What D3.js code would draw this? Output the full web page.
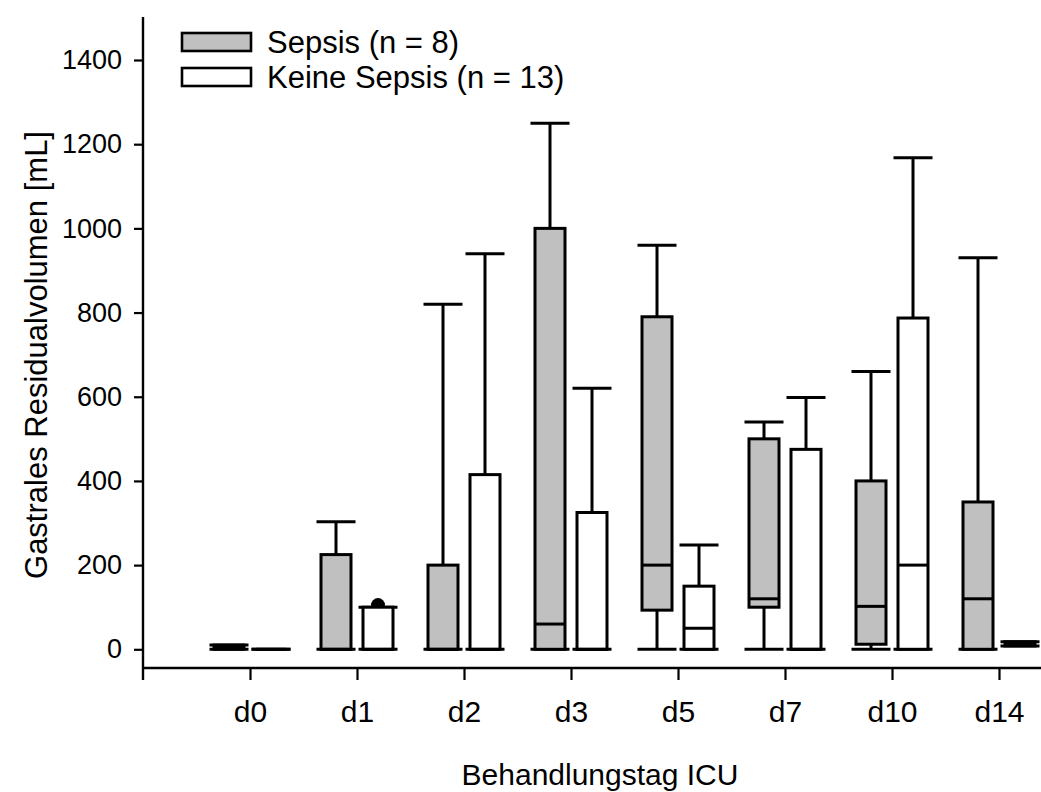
<!DOCTYPE html>
<html>
<head>
<meta charset="utf-8">
<script src="https://cdn.jsdelivr.net/npm/d3@7"></script>
<style>
  html, body { margin: 0; padding: 0; background: #fff; }
  svg { display: block; font-family: "Liberation Sans", Arial, sans-serif; }
</style>
</head>
<body>
<svg id="chart" width="1041" height="792"></svg>
<script>
const categories = ["d0", "d1", "d2", "d3", "d5", "d7", "d10", "d14"];
const yTicks = [0, 200, 400, 600, 800, 1000, 1200, 1400];

const sepsisMin    = [0, 0, 0, 0, 0, 0, 0, 0];
const sepsisQ1     = [0, 0, 0, 0, 93, 100, 12, 0];
const sepsisMedian = [5, 0, 0, 60, 200, 120, 102, 120];
const sepsisQ3     = [10, 225, 200, 1000, 790, 500, 400, 350];
const sepsisMax    = [10, 303, 820, 1250, 960, 540, 660, 930];

const keineMin    = [0, 0, 0, 0, 0, 0, 0, 8];
const keineQ1     = [0, 0, 0, 0, 0, 0, 0, 8];
const keineMedian = [0, 0, 0, 0, 50, 0, 200, 12];
const keineQ3     = [0, 100, 415, 325, 150, 475, 787, 18];
const keineMax    = [0, 100, 940, 620, 248, 598, 1168, 18];
const keineOutliers = [[], [105], [], [], [], [], [], []];

const seriesNames = ["Sepsis (n = 8)", "Keine Sepsis (n = 13)"];
const seriesFill = ["#c0c0c0", "#ffffff"];

const svg = d3.select("#chart");
const axisY = 668, axisLeft = 143, axisRight = 1041, axisTop = 17;
const FONT = "'Liberation Sans', Arial, sans-serif";

const y = d3.scaleLinear().domain([0, 1400]).range([649.3, 60]);
const x = d3.scalePoint().domain(categories).range([250, 999]);

const boxW = 30, capW = 39, offset = 21, sw = 3;

// axes
svg.append("line").attr("x1", axisLeft).attr("x2", axisLeft).attr("y1", axisTop).attr("y2", axisY + 12)
  .attr("stroke", "#000").attr("stroke-width", 2.4);
svg.append("line").attr("x1", axisLeft).attr("x2", axisRight).attr("y1", axisY).attr("y2", axisY)
  .attr("stroke", "#000").attr("stroke-width", 2.4);

const gy = svg.append("g").attr("transform", `translate(${axisLeft},0)`)
  .call(d3.axisLeft(y).tickValues(yTicks).tickSize(9).tickPadding(12).tickFormat(d3.format("d")));
gy.select(".domain").remove();
gy.selectAll(".tick line").attr("stroke", "#000").attr("stroke-width", 2.2);
gy.selectAll(".tick text").attr("font-size", 27).attr("fill", "#000").attr("font-family", FONT);

const gx = svg.append("g").attr("transform", `translate(0,${axisY})`)
  .call(d3.axisBottom(x).tickSize(12).tickPadding(21));
gx.select(".domain").remove();
gx.selectAll(".tick line").attr("stroke", "#000").attr("stroke-width", 2.2);
gx.selectAll(".tick text").attr("font-size", 30).attr("fill", "#000").attr("font-family", FONT);

// boxes
const series = [
  {min: sepsisMin, q1: sepsisQ1, med: sepsisMedian, q3: sepsisQ3, max: sepsisMax, out: categories.map(() => []), dx: -offset, fill: seriesFill[0]},
  {min: keineMin, q1: keineQ1, med: keineMedian, q3: keineQ3, max: keineMax, out: keineOutliers, dx: offset, fill: seriesFill[1]}
];

series.forEach(s => {
  const g = svg.append("g");
  categories.forEach((c, i) => {
    const cx = x(c) + s.dx;
    g.append("line").attr("x1", cx).attr("x2", cx).attr("y1", y(s.q3[i])).attr("y2", y(s.max[i]))
      .attr("stroke", "#000").attr("stroke-width", sw);
    g.append("line").attr("x1", cx).attr("x2", cx).attr("y1", y(s.q1[i])).attr("y2", y(s.min[i]))
      .attr("stroke", "#000").attr("stroke-width", sw);
    g.append("line").attr("x1", cx - capW / 2).attr("x2", cx + capW / 2).attr("y1", y(s.max[i])).attr("y2", y(s.max[i]))
      .attr("stroke", "#000").attr("stroke-width", sw);
    g.append("line").attr("x1", cx - capW / 2).attr("x2", cx + capW / 2).attr("y1", y(s.min[i])).attr("y2", y(s.min[i]))
      .attr("stroke", "#000").attr("stroke-width", sw);
    s.out[i].forEach(v => {
      g.append("circle").attr("cx", cx).attr("cy", y(v)).attr("r", 7).attr("fill", "#000");
    });
    g.append("rect").attr("x", cx - boxW / 2).attr("width", boxW)
      .attr("y", y(s.q3[i])).attr("height", Math.max(0, y(s.q1[i]) - y(s.q3[i])))
      .attr("fill", s.fill).attr("stroke", "#000").attr("stroke-width", sw);
    g.append("line").attr("x1", cx - boxW / 2).attr("x2", cx + boxW / 2).attr("y1", y(s.med[i])).attr("y2", y(s.med[i]))
      .attr("stroke", "#000").attr("stroke-width", sw);
  });
});

// legend
const legend = svg.append("g");
seriesNames.forEach((name, i) => {
  const ly = 33 + i * 35;
  legend.append("rect").attr("x", 182).attr("y", ly).attr("width", 69).attr("height", 18)
    .attr("fill", seriesFill[i]).attr("stroke", "#000").attr("stroke-width", 2.6);
  legend.append("text").attr("x", 267).attr("y", ly + 9).attr("dy", "0.36em")
    .attr("font-size", 31).attr("fill", "#000").attr("font-family", FONT).text(name);
});

// axis titles
svg.append("text").attr("x", 600).attr("y", 785).attr("text-anchor", "middle")
  .attr("font-size", 30).attr("fill", "#000").attr("font-family", FONT).text("Behandlungstag ICU");
svg.append("text").attr("transform", "translate(47,355) rotate(-90)").attr("text-anchor", "middle")
  .attr("font-size", 31).attr("fill", "#000").attr("font-family", FONT).text("Gastrales Residualvolumen [mL]");
</script>
</body>
</html>
